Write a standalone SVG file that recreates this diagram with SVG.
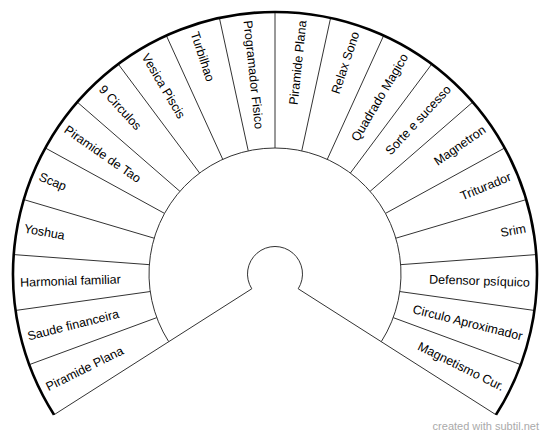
<svg xmlns="http://www.w3.org/2000/svg" width="550" height="438" viewBox="0 0 550 438">
<style>
.thin{fill:none;stroke:#333;stroke-width:1}
.outer{fill:none;stroke:#000;stroke-width:2.6}
.lbl{font-family:"Liberation Sans",Arial,sans-serif;font-size:12.5px;fill:#000}
.r{text-anchor:end}
.l{text-anchor:start}
.wm{font-family:"Liberation Sans",Arial,sans-serif;font-size:11px;fill:#aaa}
</style>
<rect width="550" height="438" fill="#fff"/>
<g id="frame">
<path class="thin" d="M251.81 288.78 A27.5 27.5 0 1 1 298.19 288.78"/>
<path class="thin" d="M168.73 341.70 A126 126 0 1 1 381.27 341.70"/>
</g>
<g id="connectors" class="thin">
<line x1="251.81" y1="288.78" x2="54.03" y2="414.77"/>
<line x1="298.19" y1="288.78" x2="495.97" y2="414.77"/>
<line x1="275" y1="148" x2="275" y2="12"/>
<line x1="301.74" y1="150.87" x2="330.59" y2="17.97"/>
<line x1="327.25" y1="159.35" x2="383.65" y2="35.59"/>
<line x1="350.39" y1="173.04" x2="431.76" y2="64.07"/>
<line x1="370.09" y1="191.34" x2="472.73" y2="102.11"/>
<line x1="385.47" y1="213.40" x2="504.70" y2="147.98"/>
<line x1="395.81" y1="238.21" x2="526.21" y2="199.59"/>
<line x1="400.65" y1="264.66" x2="536.28" y2="254.58"/>
<line x1="399.77" y1="291.54" x2="534.45" y2="310.46"/>
<line x1="393.21" y1="317.61" x2="520.81" y2="364.68"/>
<line x1="248.26" y1="150.87" x2="219.41" y2="17.97"/>
<line x1="222.75" y1="159.35" x2="166.35" y2="35.59"/>
<line x1="199.61" y1="173.04" x2="118.24" y2="64.07"/>
<line x1="179.91" y1="191.34" x2="77.27" y2="102.11"/>
<line x1="164.53" y1="213.40" x2="45.30" y2="147.98"/>
<line x1="154.19" y1="238.21" x2="23.79" y2="199.59"/>
<line x1="149.35" y1="264.66" x2="13.72" y2="254.58"/>
<line x1="150.23" y1="291.54" x2="15.55" y2="310.46"/>
<line x1="156.79" y1="317.61" x2="29.19" y2="364.68"/>
</g>
<path class="outer" d="M54.03 414.77 A262 262 0 1 1 495.97 414.77"/>
<g id="s-programador-fisico"><text class="lbl l" x="20" y="274" dy=".35em" transform="rotate(83.875 275 274)">Programador Fisico</text></g>
<g id="s-turbilhao"><text class="lbl l" x="20" y="274" dy=".35em" transform="rotate(71.625 275 274)">Turbilhao</text></g>
<g id="s-vesica-piscis"><text class="lbl l" x="20" y="274" dy=".35em" transform="rotate(59.375 275 274)">Vesica Piscis</text></g>
<g id="s-9-circulos"><text class="lbl l" x="20" y="274" dy=".35em" transform="rotate(47.125 275 274)">9 Circulos</text></g>
<g id="s-piramide-de-tao"><text class="lbl l" x="20" y="274" dy=".35em" transform="rotate(34.875 275 274)">Piramide de Tao</text></g>
<g id="s-scap"><text class="lbl l" x="20" y="274" dy=".35em" transform="rotate(22.625 275 274)">Scap</text></g>
<g id="s-yoshua"><text class="lbl l" x="20" y="274" dy=".35em" transform="rotate(10.375 275 274)">Yoshua</text></g>
<g id="s-harmonial-familiar"><text class="lbl l" x="20" y="274" dy=".35em" transform="rotate(-1.875 275 274)">Harmonial familiar</text></g>
<g id="s-saude-financeira"><text class="lbl l" x="20" y="274" dy=".35em" transform="rotate(-14.125 275 274)">Saude financeira</text></g>
<g id="s-piramide-plana-left"><text class="lbl l" x="20" y="274" dy=".35em" transform="rotate(-26.375 275 274)">Piramide Plana</text></g>
<g id="s-piramide-plana-right"><text class="lbl r" x="530" y="274" dy=".35em" transform="rotate(-83.875 275 274)">Piramide Plana</text></g>
<g id="s-relax-sono"><text class="lbl r" x="530" y="274" dy=".35em" transform="rotate(-71.625 275 274)">Relax Sono</text></g>
<g id="s-quadrado-magico"><text class="lbl r" x="530" y="274" dy=".35em" transform="rotate(-59.375 275 274)">Quadrado Magico</text></g>
<g id="s-sorte-e-sucesso"><text class="lbl r" x="530" y="274" dy=".35em" transform="rotate(-47.125 275 274)">Sorte e sucesso</text></g>
<g id="s-magnetron"><text class="lbl r" x="530" y="274" dy=".35em" transform="rotate(-34.875 275 274)">Magnetron</text></g>
<g id="s-triturador"><text class="lbl r" x="530" y="274" dy=".35em" transform="rotate(-22.625 275 274)">Triturador</text></g>
<g id="s-srim"><text class="lbl r" x="530" y="274" dy=".35em" transform="rotate(-10.375 275 274)">Srim</text></g>
<g id="s-defensor-psiquico"><text class="lbl r" x="530" y="274" dy=".35em" transform="rotate(1.875 275 274)">Defensor psíquico</text></g>
<g id="s-circulo-aproximador"><text class="lbl r" x="530" y="274" dy=".35em" transform="rotate(14.125 275 274)">Circulo Aproximador</text></g>
<g id="s-magnetismo-cur"><text class="lbl r" x="530" y="274" dy=".35em" transform="rotate(26.375 275 274)">Magnetismo Cur.</text></g>
<text class="wm" x="539" y="430" text-anchor="end">created with subtil.net</text>
</svg>
